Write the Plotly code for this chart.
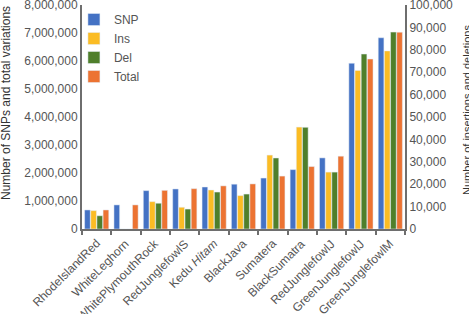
import plotly.graph_objects as go

categories = ["RhodeIslandRed", "WhiteLeghorn", "WhitePlymouthRock", "RedJunglefowlS",
              "Kedu <i>Hitam</i>", "BlackJava", "Sumatera", "BlackSumatra",
              "RedJunglefowlJ", "GreenJunglefowlJ", "GreenJunglefowlM"]
snp = [680000, 860000, 1370000, 1430000, 1500000, 1600000, 1820000, 2120000, 2540000, 5920000, 6830000]
ins = [8200, 0, 12200, 9700, 17400, 14900, 33000, 45500, 25400, 70800, 79500]
dele = [5900, 0, 11500, 8900, 16500, 15600, 31700, 45400, 25400, 78100, 87900]
total = [680000, 860000, 1380000, 1440000, 1540000, 1610000, 1890000, 2230000, 2600000, 6070000, 7030000]
left_title = "Number of SNPs and total variations"
right_title = "Number of insertions and deletions"

colors = {"SNP": "#4472C4", "Ins": "#FBBC24", "Del": "#4F7F2B", "Total": "#EC7332"}
font = "Liberation Sans, Arial, sans-serif"
gray = "#555555"

fig = go.Figure()
fig.add_bar(x=categories, y=snp, name="SNP", marker_color=colors["SNP"], yaxis="y",
            offsetgroup="1", alignmentgroup="a")
fig.add_bar(x=categories, y=ins, name="Ins", marker_color=colors["Ins"], yaxis="y2",
            offsetgroup="2", alignmentgroup="a")
fig.add_bar(x=categories, y=dele, name="Del", marker_color=colors["Del"], yaxis="y2",
            offsetgroup="3", alignmentgroup="a")
fig.add_bar(x=categories, y=total, name="Total", marker_color=colors["Total"], yaxis="y",
            offsetgroup="4", alignmentgroup="a")

# rotated category labels as annotations anchored just under the axis
label_annotations = [
    dict(text=c, x=c, xref="x", y=(229 - 234) / 224, yref="paper", textangle=-45,
         xanchor="right", yanchor="top", xshift=9, showarrow=False,
         font=dict(size=12, color=gray))
    for c in categories
]

fig.update_layout(
    width=469, height=314,
    margin=dict(l=82, r=64, t=5, b=85, autoexpand=False),
    plot_bgcolor="white", paper_bgcolor="white",
    barmode="group", bargap=0.16, bargroupgap=0.08,
    font=dict(family=font, size=12, color=gray),
    showlegend=True,
    legend=dict(x=-0.025, y=1.0, xanchor="left", yanchor="top", bgcolor="rgba(0,0,0,0)",
                font=dict(size=12, color=gray), tracegroupgap=0, itemwidth=30),
    xaxis=dict(showline=True, linecolor="#6e6e6e", linewidth=2, ticks="outside",
               tickson="boundaries", ticklen=4, tickcolor="#6e6e6e", tickwidth=2,
               showticklabels=False, showgrid=False, automargin=False,
               range=[-0.5, len(categories) - 0.5], autorange=False),
    yaxis=dict(range=[0, 8000000], dtick=1000000, tickformat=",d", showgrid=False,
               showline=True, linecolor="#6e6e6e", linewidth=2, ticks="",
               zeroline=False, tickfont=dict(size=12, color=gray), automargin=False,
               ticklabeloverflow="allow"),
    yaxis2=dict(range=[0, 100000], dtick=10000, tickformat=",d", showgrid=False,
                overlaying="y", side="right",
                showline=True, linecolor="#6e6e6e", linewidth=2, ticks="",
                zeroline=False, tickfont=dict(size=12, color=gray), automargin=False,
                ticklabeloverflow="allow"),
    annotations=[
        dict(text=left_title, textangle=-90, xref="paper", yref="paper",
             x=(6 - 82) / 323, y=(229 - 103) / 224, xanchor="center", yanchor="middle",
             showarrow=False, font=dict(size=12, color="#333")),
        dict(text=right_title, textangle=-90, xref="paper", yref="paper",
             x=(467 - 82) / 323, y=(229 - 110) / 224, xanchor="center", yanchor="middle",
             showarrow=False, font=dict(size=11, color="#333")),
    ] + label_annotations,
)

fig.write_html("out.html", config={"displayModeBar": False},
               post_script="document.body.style.margin='0';document.body.style.overflow='hidden';")
